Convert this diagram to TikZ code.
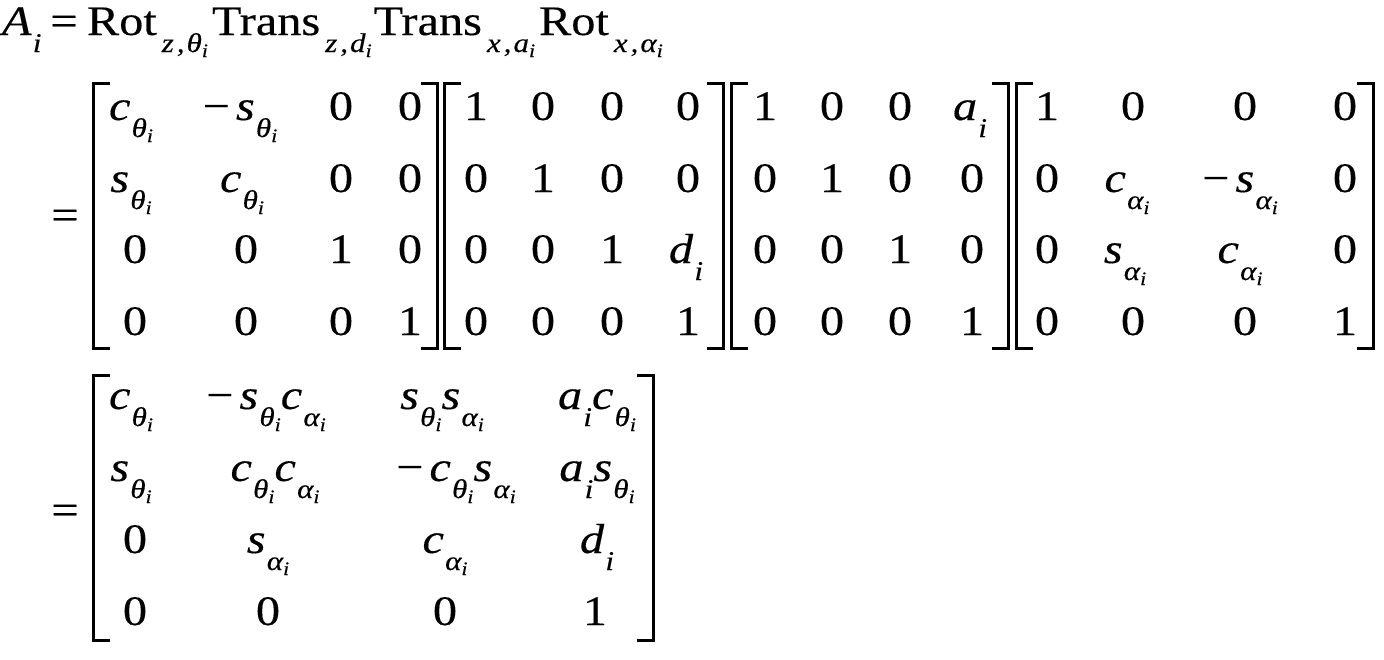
\documentclass[tikz,border=0pt]{standalone}
\usepackage{fontspec}
\setmainfont{Liberation Serif}[FakeStretch=1.15, FakeBold=0.3]
\newcommand\sbb[1]{\hspace{0.6pt}\raisebox{-8.5pt}{\fontsize{13.5}{13.5}\selectfont\itshape #1}}
\newcommand\ssb[1]{\raisebox{-2.5pt}{\fontsize{9.5}{9.5}\selectfont\itshape #1}}
\newcommand\mi[1]{\textit{#1}}
\newcommand\mmin{−\hspace{3pt}}
\newcommand\myct{\mi{c}\sbb{θ\ssb{i}}}
\newcommand\myst{\mi{s}\sbb{θ\ssb{i}}}
\newcommand\myca{\mi{c}\sbb{α\ssb{i}}}
\newcommand\mysa{\mi{s}\sbb{α\ssb{i}}}
\tikzset{
  ent/.style={anchor=base, inner sep=0pt, outer sep=0pt, font=\fontsize{21}{21}\selectfont},
  sub/.style={anchor=base west, inner sep=0pt, outer sep=0pt, font=\fontsize{13.5}{13.5}\selectfont\itshape},
  brk/.style={line width=1.5pt, line cap=rect}
}
\newcommand\lbrk[3]{\draw[brk] (#1+15,#2) -- (#1,#2) -- (#1,#3) -- (#1+15,#3);}
\newcommand\rbrk[3]{\draw[brk] (#1-15,#2) -- (#1,#2) -- (#1,#3) -- (#1-15,#3);}
\begin{document}
\begin{tikzpicture}[x=0.5pt,y=-0.5pt]
\useasboundingbox (0,0) rectangle (1384,659);
\fill[white] (0,0) rectangle (1384,659);
% first line
\node[ent, anchor=base west] (Ai) at (2,35) {\mi{A}\sbb{i}};
\node[ent] (eq0) at (64,35) {=};
\node[ent, anchor=base west] (rot1) at (87,35) {Rot};
\node[sub] (s1) at ([xshift=2.5pt,yshift=-8.5pt]rot1.base east) {z\hspace{1.5pt},\hspace{1pt}θ\ssb{i}};
\node[ent, anchor=base west] (tr1) at ([xshift=2pt,yshift=8.5pt]s1.base east) {Trans};
\node[sub] (s2) at ([xshift=2.5pt,yshift=-8.5pt]tr1.base east) {z\hspace{1.5pt},\hspace{1pt}d\ssb{i}};
\node[ent, anchor=base west] (tr2) at ([xshift=1pt,yshift=8.5pt]s2.base east) {Trans};
\node[sub] (s3) at ([xshift=2.5pt,yshift=-8.5pt]tr2.base east) {x\hspace{1.5pt},\hspace{1pt}a\ssb{i}};
\node[ent, anchor=base west] (rot2) at ([xshift=2pt,yshift=8.5pt]s3.base east) {Rot};
\node[sub] (s4) at ([xshift=2.5pt,yshift=-8.5pt]rot2.base east) {x\hspace{1.5pt},\hspace{1pt}α\ssb{i}};
% equals
\node[ent] (eq1) at (65,229) {=};
\node[ent] (eq2) at (65,524) {=};
% brackets top row
\lbrk{93}{83}{348}
\rbrk{437}{83}{348}
\lbrk{444}{83}{348}
\rbrk{723}{83}{348}
\lbrk{731}{83}{348}
\rbrk{1008}{83}{348}
\lbrk{1016}{83}{348}
\rbrk{1373}{83}{348}
% bottom brackets
\lbrk{93}{375}{640}
\rbrk{653}{375}{640}
% M1
\foreach \x/\y/\t/\n in {131/120/{\myct}/a11, 240/120/{\mmin\myst}/a12, 341/120/0/a13, 410/120/0/a14,
  131/192/{\myst}/a21, 242/192/{\myct}/a22, 341/192/0/a23, 410/192/0/a24,
  135/263/0/a31, 246/263/0/a32, 341/263/1/a33, 410/263/0/a34,
  135/335/0/a41, 246/335/0/a42, 341/335/0/a43, 410/335/1/a44}
  \node[ent] (\n) at (\x,\y) {\t};
% M2
\foreach \x/\y/\t/\n in {476/120/1/b11, 543/120/0/b12, 612/120/0/b13, 688/120/0/b14,
  476/192/0/b21, 543/192/1/b22, 612/192/0/b23, 688/192/0/b24,
  476/263/0/b31, 543/263/0/b32, 612/263/1/b33, 686/263/{\mi{d}\sbb{i}}/b34,
  476/335/0/b41, 543/335/0/b42, 612/335/0/b43, 688/335/1/b44}
  \node[ent] (\n) at (\x,\y) {\t};
% M3
\foreach \x/\y/\t/\n in {765/120/1/c11, 832/120/0/c12, 900/120/0/c13, 970/120/{\mi{a}\sbb{i}}/c14,
  765/192/0/c21, 832/192/1/c22, 900/192/0/c23, 972/192/0/c24,
  765/263/0/c31, 832/263/0/c32, 900/263/1/c33, 972/263/0/c34,
  765/335/0/c41, 832/335/0/c42, 900/335/0/c43, 972/335/1/c44}
  \node[ent] (\n) at (\x,\y) {\t};
% M4
\foreach \x/\y/\t/\n in {1047/120/1/d11, 1133/120/0/d12, 1245/120/0/d13, 1345/120/0/d14,
  1047/192/0/d21, 1127/192/{\myca}/d22, 1240/192/{\mmin\mysa}/d23, 1345/192/0/d24,
  1047/263/0/d31, 1125/263/{\mysa}/d32, 1240/263/{\myca}/d33, 1345/263/0/d34,
  1047/335/0/d41, 1133/335/0/d42, 1245/335/0/d43, 1345/335/1/d44}
  \node[ent] (\n) at (\x,\y) {\t};
% result
\foreach \x/\y/\t/\n in {131/409/{\myct}/e11, 266/409/{\mmin\myst\myca}/e12, 442/409/{\myst\mysa}/e13, 597/409/{\mi{a}\sbb{i}\myct}/e14,
  131/481/{\myst}/e21, 275/481/{\myct\myca}/e22, 456/481/{\mmin\myct\mysa}/e23, 597/481/{\mi{a}\sbb{i}\myst}/e24,
  135/553/0/e31, 268/553/{\mysa}/e32, 445/553/{\myca}/e33, 597/553/{\mi{d}\sbb{i}}/e34,
  135/625/0/e41, 268/625/0/e42, 445/625/0/e43, 595/625/1/e44}
  \node[ent] (\n) at (\x,\y) {\t};
\end{tikzpicture}
\end{document}
